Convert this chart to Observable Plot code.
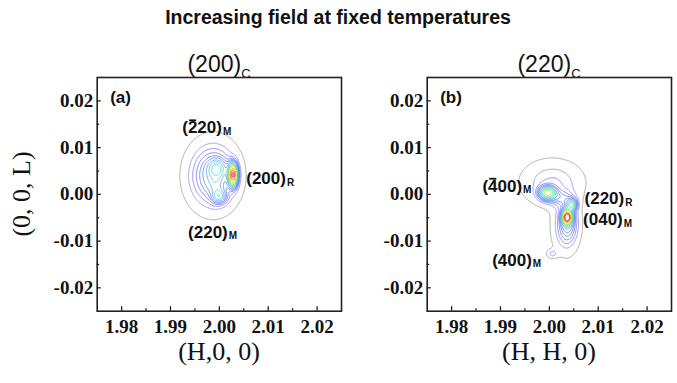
<!DOCTYPE html>
<html>
<head>
<meta charset="utf-8">
<script src="https://cdn.jsdelivr.net/npm/d3@7"></script>
<script src="https://cdn.jsdelivr.net/npm/@observablehq/plot@0.6"></script>
<style>
  body { margin: 0; background: #fff; }
  #chart { position: relative; width: 677px; height: 383px; overflow: hidden; color: #111; }
  .abs { position: absolute; white-space: nowrap; line-height: 1; }
  .title { font: bold 19.5px "Liberation Sans", Arial, sans-serif; left: 338px; top: 6px; transform: translateX(-50%); }
  .subtitle { font: 23px "Liberation Sans", Arial, sans-serif; top: 51px; transform: translateX(-50%); }
  .subtitle sub { font-size: 13px; vertical-align: -6px; }
  .axlabel { font: 26px "Liberation Serif", "Times New Roman", serif; }
  #chart svg { position: absolute; top: 0; overflow: visible; }
</style>
</head>
<body>
<div id="chart"></div>
<script>
// Axis ticks (H along x, L along y)
const hTicks = [1.98, 1.99, 2.00, 2.01, 2.02];
const hMinor = [1.985, 1.995, 2.005, 2.015];
const lTicks = [-0.02, -0.01, 0.00, 0.01, 0.02];
const lMinor = [-0.015, -0.005, 0.005, 0.015];

// Contour levels (relative intensity) and their colours
const levels = [0.02, 0.06, 0.09, 0.12, 0.15, 0.18, 0.22, 0.26, 0.31, 0.37, 0.45, 0.55, 0.66, 0.78, 0.9];
const levelColors = ["#9c9c9c", "#8a8af4", "#7878f0", "#6a6aee", "#6070ee", "#5a82ee", "#5c9aee",
                     "#50c8d6", "#48d8a8", "#44e070", "#96e03c", "#ece61c", "#ff9e1c", "#ff3016", "#c00000"];

// (a) (200)_C reflection: Gaussian components (centre H, centre L, intensity, width H, width L)
const peakH_a = [1.9987, 1.9996, 2.0000, 2.0028, 1.9994];
const peakL_a = [0.0040, 0.0057, -0.0005, 0.0042, 0.0025];
const peakI_a = [0.22, 0.14, 0.17, 0.85, 0.05];
const widthH_a = [0.0031, 0.0012, 0.0010, 0.0006, 0.0010];
const widthL_a = [0.0043, 0.0012, 0.0010, 0.0015, 0.0025];

// (b) (220)_C reflection
const peakH_b = [2.0006, 2.0032, 2.0038, 2.0020, 1.9996, 2.0046, 2.00365, 2.0006];
const peakL_b = [0.0025, -0.0075, -0.0058, -0.0008, 0.0003, -0.0022, -0.0049, -0.0127];
const peakI_b = [0.095, 0.07, 0.16, 0.09, 0.42, 0.30, 0.95, 0.07];
const widthH_b = [0.0039, 0.0018, 0.0013, 0.0019, 0.0011, 0.0007, 0.0006, 0.0007];
const widthL_b = [0.0030, 0.0036, 0.0029, 0.0011, 0.0009, 0.0008, 0.0009, 0.0006];

// Peak labels: text, barred character index, subscript, anchor (H, L)
const labelText_a = ["(220)", "(200)", "(220)"];
const labelBar_a = [1, null, null];
const labelSub_a = ["M", "R", "M"];
const labelH_a = [1.9924, 2.0055, 1.9936];
const labelL_a = [0.0142, 0.0033, -0.0081];

const labelText_b = ["(400)", "(220)", "(040)", "(400)"];
const labelBar_b = [1, null, null, null];
const labelSub_b = ["M", "R", "M", "M"];
const labelH_b = [1.9863, 2.0072, 2.0069, 1.9883];
const labelL_b = [0.0017, -0.00095, -0.00545, -0.01415];

const chart = document.getElementById("chart");
const ns = "http://www.w3.org/2000/svg";

function addDiv(cls, html, style) {
  const d = document.createElement("div");
  d.className = "abs " + cls;
  d.innerHTML = html;
  Object.assign(d.style, style);
  chart.appendChild(d);
  return d;
}

function field(H, L, I, WH, WL) {
  return (h, l) => {
    let s = 0;
    for (let i = 0; i < H.length; ++i) {
      const u = (h - H[i]) / WH[i], v = (l - L[i]) / WL[i];
      s += I[i] * Math.exp(-0.5 * (u * u + v * v));
    }
    return s;
  };
}

function panel({left, width, tag, value, text, bar, sub, lh, ll}) {
  const labels = text.map((t, i) => ({t, bar: bar[i], sub: sub[i], h: lh[i], l: ll[i]}));
  const frameW = 244.3;
  const svg = Plot.plot({
    width, height: 383,
    marginLeft: 96.7, marginRight: width - 96.7 - frameW,
    marginTop: 77, marginBottom: 383 - 310.7,
    x: {domain: [1.975, 2.025]},
    y: {domain: [-0.025, 0.025]},
    color: {type: "ordinal", domain: levels, range: levelColors},
    style: {background: "transparent", color: "#111"},
    marks: [
      Plot.contour({
        x1: 1.975, x2: 2.025, y1: -0.025, y2: 0.025,
        value, thresholds: levels, pixelSize: 0.5,
        stroke: "value", fill: "none", strokeWidth: 0.85
      }),
      Plot.axisX({ticks: hTicks, tickSize: -4.5, tickPadding: 13, tickFormat: d => d.toFixed(2),
        label: null, fontSize: 19, fontWeight: "bold", fontFamily: "Liberation Serif", strokeWidth: 1.2}),
      Plot.axisX({ticks: hMinor, tickSize: -2.5, tickFormat: () => "", label: null, strokeWidth: 1.2}),
      Plot.axisY({ticks: lTicks, tickSize: -4, tickPadding: 8, tickFormat: d => d.toFixed(2),
        label: null, fontSize: 19, fontWeight: "bold", fontFamily: "Liberation Serif", strokeWidth: 1.2}),
      Plot.axisY({ticks: lMinor, tickSize: -2.5, tickFormat: () => "", label: null, strokeWidth: 1.2}),
      Plot.frame({stroke: "#222", strokeWidth: 1.6}),
      Plot.text([tag], {frameAnchor: "top-left", dx: 13, dy: 20, lineAnchor: "middle", textAnchor: "start",
        fontSize: 17, fontWeight: "bold", fontFamily: "Liberation Sans", fill: "#111"}),
      Plot.text(labels, {x: "h", y: "l", text: "t", textAnchor: "start", lineAnchor: "middle",
        fontSize: 17, fontWeight: "bold", fontFamily: "Liberation Sans", fill: "#111"})
    ]
  });
  svg.style.left = left + "px";
  chart.appendChild(svg);

  // Subscripts and overbars on the peak labels
  const groups = svg.querySelectorAll('g[aria-label="text"]');
  const g = groups[groups.length - 1];
  g.querySelectorAll("text").forEach((el, i) => {
    const d = labels[i];
    const s = document.createElementNS(ns, "tspan");
    s.setAttribute("font-size", 10);
    s.setAttribute("dx", 1);
    s.setAttribute("dy", "0.15em");
    s.textContent = d.sub;
    el.appendChild(s);
    if (d.bar != null) {
      const ext = el.getExtentOfChar(d.bar);
      const line = document.createElementNS(ns, "line");
      const yb = ext.y + ext.height * 0.1;
      line.setAttribute("x1", ext.x + 1.2);
      line.setAttribute("x2", ext.x + ext.width - 1.2);
      line.setAttribute("y1", yb);
      line.setAttribute("y2", yb);
      line.setAttribute("stroke", "#111");
      line.setAttribute("stroke-width", 1.8);
      if (el.getAttribute("transform")) line.setAttribute("transform", el.getAttribute("transform"));
      g.appendChild(line);
    }
  });
  return svg;
}

addDiv("title", "Increasing field at fixed temperatures", {});
addDiv("subtitle", "(200)<sub>C</sub>", {left: "219px"});
addDiv("subtitle", "(220)<sub>C</sub>", {left: "549px"});

panel({left: 0, width: 350, tag: "(a)",
  value: field(peakH_a, peakL_a, peakI_a, widthH_a, widthL_a),
  text: labelText_a, bar: labelBar_a, sub: labelSub_a, lh: labelH_a, ll: labelL_a});
panel({left: 330, width: 347, tag: "(b)",
  value: field(peakH_b, peakL_b, peakI_b, widthH_b, widthL_b),
  text: labelText_b, bar: labelBar_b, sub: labelSub_b, lh: labelH_b, ll: labelL_b});

addDiv("axlabel", "(H,0, 0)", {left: "219px", top: "337px", transform: "translateX(-50%)"});
addDiv("axlabel", "(H, H, 0)", {left: "549px", top: "337px", transform: "translateX(-50%)"});
addDiv("axlabel", "(0, 0, L)", {left: "22px", top: "194px", transform: "translate(-50%, -50%) rotate(-90deg)"});
</script>
</body>
</html>
